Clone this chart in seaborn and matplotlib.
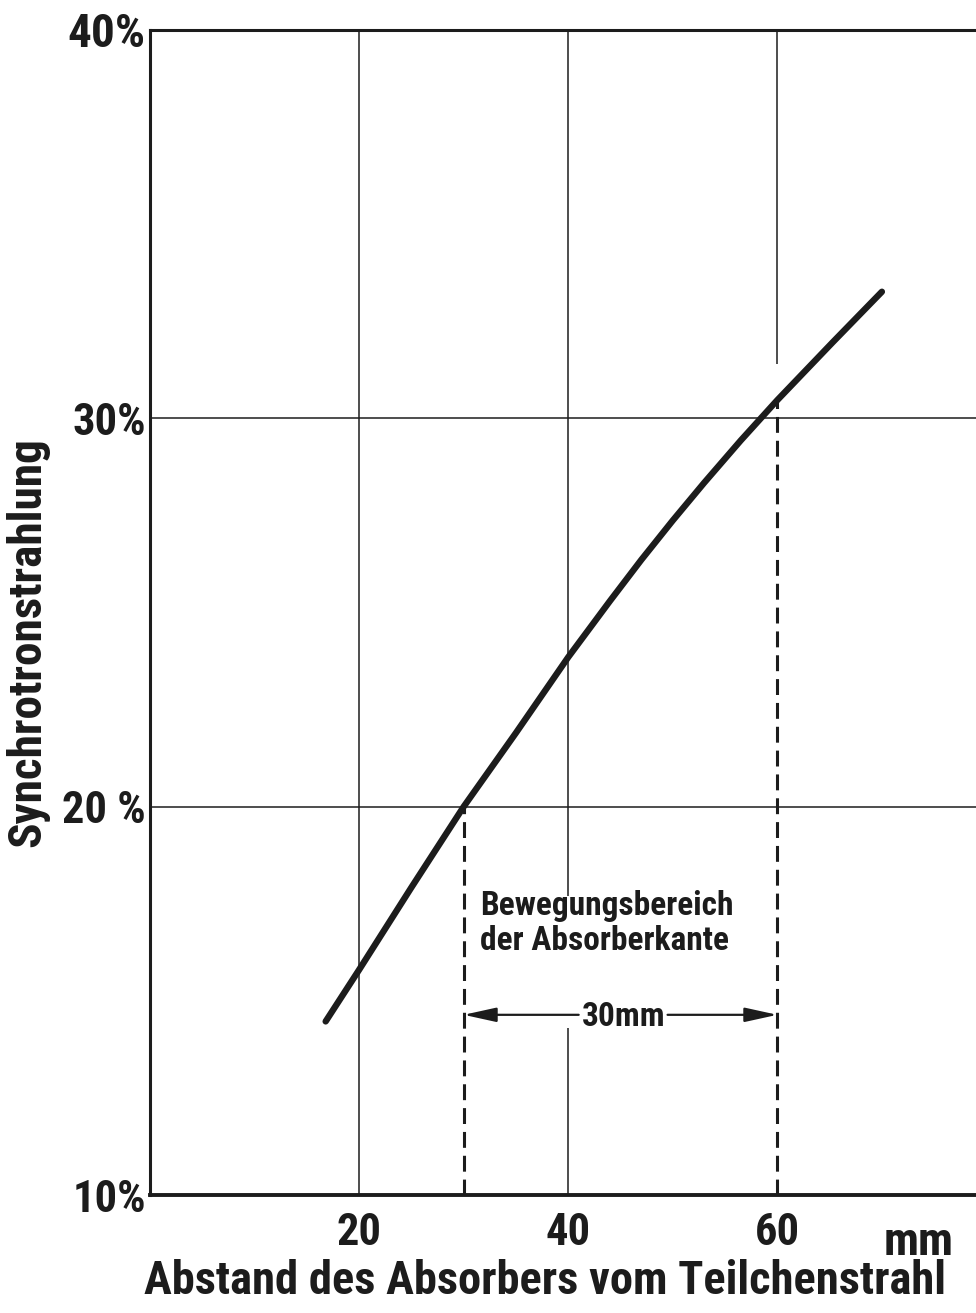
import matplotlib
matplotlib.use("Agg")
import matplotlib.pyplot as plt
from matplotlib import font_manager
import matplotlib.transforms as mtransforms
import seaborn as sns
import pandas as pd

# Distance of the absorber edge from the particle beam (mm)
distance_mm = [16.8, 20.0, 25.0, 30.0, 35.0, 40.0, 44.0, 47.0, 50.0, 53.0, 56.5, 60.0, 65.3, 70.0]
# Share of synchrotron radiation reaching the absorber (%)
radiation_pct = [14.47, 15.8, 17.92, 20.0, 21.9, 23.85, 25.3, 26.36, 27.37, 28.34, 29.43, 30.47, 31.96, 33.26]

x_ticks = [20, 40, 60]
x_tick_labels = ["20", "40", "60"]
y_ticks = [10, 20, 30, 40]
y_tick_labels = ["10%", "20 %", "30%", "40%"]

# Travel range of the absorber edge (mm)
range_start = 30
range_end = 60

x_label = "Abstand des Absorbers vom Teilchenstrahl"
y_label = "Synchrotronstrahlung"
x_unit = "mm"
range_note = "Bewegungsbereich\nder Absorberkante"

df = pd.DataFrame({"abstand": distance_mm, "strahlung": radiation_pct})

sns.set_theme(style="white")
available = {f.name for f in font_manager.fontManager.ttflist}
main_font = next((f for f in ["Roboto Condensed", "Liberation Sans Narrow", "DejaVu Sans"]
                  if f in available), "DejaVu Sans")
plt.rcParams["font.family"] = [main_font, "DejaVu Sans"]
plt.rcParams["font.weight"] = "bold"
plt.rcParams["axes.labelweight"] = "bold"

INK = "#1c1c1c"

fig = plt.figure(figsize=(9.76, 13.13), dpi=100)
fig.patch.set_facecolor("white")
ax = fig.add_axes([150 / 976, 118 / 1313, 826 / 976, 1165 / 1313])
ax.set_facecolor("white")
ax.set_xlim(0, 79)
ax.set_ylim(10, 40)

# Grid drawn by hand: some lines stop short of the curve and the annotation
grid_kw = dict(color=INK, linewidth=1.1, zorder=1)
ax.hlines([20, 30], 0, 79, **grid_kw)
ax.vlines(20, 10, 40, **grid_kw)
ax.vlines(40, 17.7, 40, **grid_kw)
ax.vlines(40, 10, 14.3, **grid_kw)
ax.vlines(60, 31.4, 40, **grid_kw)

# Main curve
sns.lineplot(data=df, x="abstand", y="strahlung", ax=ax, color=INK,
             linewidth=4.6, solid_capstyle="round", solid_joinstyle="round",
             zorder=3, legend=False)

# Dashed limits of the travel range, from the curve down to the axis
def value_at(x):
    return radiation_pct[distance_mm.index(x)]

for xv in (range_start, range_end):
    ax.plot([xv, xv], [10, value_at(xv)], color=INK, linewidth=2.2,
            linestyle=(0, (5.2, 2.6)), zorder=2)

# Span arrows with the range width in between
arrow_y = 14.64
mid = (range_start + range_end) / 2
arrow_kw = dict(arrowstyle="-|>,head_length=1.0,head_width=0.22",
                color=INK, lw=1.6, shrinkA=0, shrinkB=0, mutation_scale=20)
ax.annotate("", xy=(range_start, arrow_y), xytext=(mid - 4.0, arrow_y),
            arrowprops=arrow_kw)
ax.annotate("", xy=(range_end, arrow_y), xytext=(mid + 4.5, arrow_y),
            arrowprops=arrow_kw)
ax.text(mid + 0.3, arrow_y - 0.05, f"{range_end - range_start}mm", ha="center",
        va="center", fontsize=24, color=INK)

ax.text(range_start + 1.6, 17.85, range_note, ha="left", va="top",
        fontsize=24, color=INK, linespacing=1.1)

# Axes frame
for side in ("left", "top", "bottom"):
    ax.spines[side].set_visible(True)
    ax.spines[side].set_color(INK)
ax.spines["left"].set_linewidth(2.2)
ax.spines["top"].set_linewidth(2.2)
ax.spines["bottom"].set_linewidth(2.8)
ax.spines["right"].set_visible(False)

ax.set_xticks(x_ticks)
ax.set_xticklabels(x_tick_labels, fontsize=32, color=INK)
ax.set_yticks(y_ticks)
ax.set_yticklabels(y_tick_labels, fontsize=32, color=INK)
ax.tick_params(axis="x", length=0, pad=12)
ax.tick_params(axis="y", length=0, pad=3)
ax.yaxis.get_ticklabels()[-1].set_fontsize(34)

ax.set_xlabel(x_label, fontsize=33.5, color=INK)
ax.xaxis.set_label_coords(0.478, -0.055)
ax.set_ylabel(y_label, fontsize=34, color=INK)
ax.yaxis.set_label_coords(-0.122, 0.475)

unit_tf = mtransforms.blended_transform_factory(ax.transData, ax.transAxes)
ax.text(73.5, -0.0515, x_unit, transform=unit_tf, ha="center", va="baseline",
        fontsize=34, color=INK, clip_on=False)

fig.savefig("out.png", dpi=100, facecolor="white")
